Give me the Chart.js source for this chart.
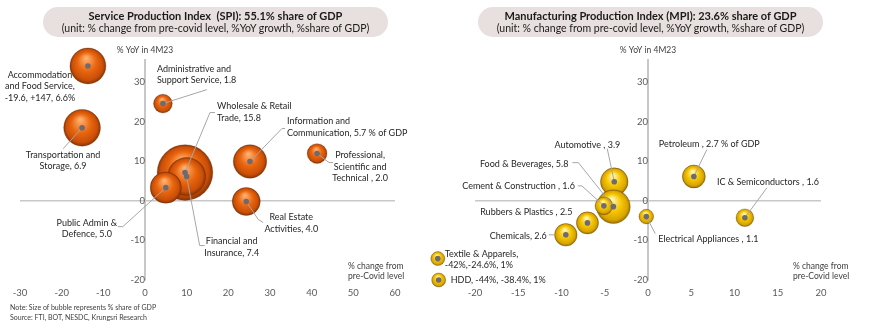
<!DOCTYPE html>
<html>
<head>
<meta charset="utf-8">
<script src="https://cdn.jsdelivr.net/npm/chart.js@4.4.0/dist/chart.umd.min.js"></script>
<style>
body { margin: 0; background: #fff; font-family: Lato, sans-serif; }
#wrap { position: relative; width: 870px; height: 333px; overflow: hidden; }
.box { position: absolute; top: 7px; height: 30px; width: 345px; border-radius: 15px; background: #e8e0df; text-align: center; color: #1a1a1a; z-index: 2; }
.box b { display: block; font-size: 11px; line-height: 12px; margin-top: 3px; }
.box span { display: block; font-size: 10.5px; line-height: 13px; }
#c1 { position: absolute; left: 0; top: 0; }
#c2 { position: absolute; left: 425px; top: 0; }
.note { position: absolute; left: 10px; top: 302px; font-size: 7px; line-height: 10px; color: #404040; }
</style>
</head>
<body>
<div id="wrap">
  <div class="box" style="left:43px"><b>Service Production Index&nbsp; (SPI): 55.1% share of GDP</b><span>(unit: % change from pre-covid level, %YoY growth, %share of GDP)</span></div>
  <div class="box" style="left:478px"><b>Manufacturing Production Index (MPI): 23.6% share of GDP</b><span>(unit: % change from pre-covid level, %YoY growth, %share of GDP)</span></div>
  <canvas id="c1" width="425" height="333"></canvas>
  <canvas id="c2" width="445" height="333"></canvas>
  <div class="note">Note: Size of bubble represents % share of GDP<br>Source: FTI, BOT, NESDC, Krungsri Research</div>
</div>
<script>
// SPI (services) - x: % change from pre-covid, y: %YoY 4M23, share of GDP
const spiLabels = [
  ['Accommodation', 'and Food Service,', '-19.6, +147, 6.6%'],
  ['Transportation and', 'Storage, 6.9'],
  ['Administrative and', 'Support Service, 1.8'],
  ['Wholesale & Retail', 'Trade, 15.8'],
  ['Financial and', 'Insurance, 7.4'],
  ['Public Admin &', 'Defence, 5.0'],
  ['Information and', 'Communication, 5.7 % of GDP'],
  ['Professional,', 'Scientific and', 'Technical , 2.0'],
  ['Real Estate', 'Activities, 4.0']
];
const spiChange = [-13.7, -15.1, 4.3, 9.6, 10.0, 5.0, 25.2, 41.3, 24.3];
const spiYoY = [34, 18.4, 24.5, 7.1, 6.1, 3.3, 9.9, 11.9, -0.2];
const spiShare = [6.6, 6.9, 1.8, 15.8, 7.4, 5.0, 5.7, 2.0, 4.0];
const spiXTicks = [-30, 60, 10];

// MPI (manufacturing)
const mpiLabels = [
  ['Automotive , 3.9'],
  ['Food & Beverages, 5.8'],
  ['Cement & Construction , 1.6'],
  ['Petroleum , 2.7 % of GDP'],
  ['IC & Semiconductors , 1.6'],
  ['Electrical Appliances , 1.1'],
  ['Rubbers & Plastics , 2.5'],
  ['Chemicals, 2.6'],
  ['Textile & Apparels,', '-42%,-24.6%, 1%'],
  ['HDD, -44%, -38.4%, 1%']
];
const mpiChange = [-3.9, -4.0, -5.1, 5.3, 11.2, -0.2, -7.0, -9.5, -24.3, -24.2];
const mpiYoY = [4.8, -1.5, -1.3, 6.1, -4.3, -4.0, -5.6, -8.6, -14.6, -20.0];
const mpiShare = [3.9, 5.8, 1.6, 2.7, 1.6, 1.1, 2.5, 2.6, 1.0, 1.0];
const mpiXTicks = [-20, 20, 5];

const yTicks = [-20, 35.5, 10];

// label placement (pixel offsets from bubble centre)
const spiPos = [
  {dx: -48, dy: 9, align: 'center'},
  {dx: -19, dy: 27, align: 'center', lead: [[0, 0], [-19, 21]]},
  {dx: -6, dy: -35, align: 'left', lead: [[0, 0], [44, -14]]},
  {dx: 32, dy: -66, align: 'left', lead: [[0, 0], [25, -60], [30, -60]]},
  {dx: 45, dy: 65, align: 'center', lead: [[0, 0], [13, 69], [18, 69]]},
  {dx: -79, dy: 35, align: 'center', lead: [[0, 0], [-43, 39], [-48, 39]]},
  {dx: 37, dy: -40, align: 'left', lead: [[0, 0], [32, -33], [35, -33]]},
  {dx: 43, dy: 2, align: 'center', lead: [[0, 0], [12, 9], [16, 9]]},
  {dx: 45, dy: 16, align: 'center', lead: [[0, 0], [12, 18], [17, 21]]}
];
const mpiPos = [
  {dx: 6, dy: -37, align: 'right', lead: [[0, 0], [-7, -33]]},
  {dx: -45, dy: -43, align: 'right', lead: [[0, 0], [-35, -44], [-41, -44]]},
  {dx: -29, dy: -20, align: 'right', lead: [[0, 0], [-22, -20], [-26, -20]]},
  {dx: -35, dy: -32, align: 'left', lead: [[0, 0], [13, -27]]},
  {dx: -28, dy: -36, align: 'left', lead: [[0, 0], [22, -30]]},
  {dx: 12, dy: 23, align: 'left', lead: [[0, 0], [9, 17]]},
  {dx: -15, dy: -11, align: 'right'},
  {dx: -19, dy: 1, align: 'right', lead: [[-11, 0], [-17, 0]]},
  {dx: 7, dy: -5, align: 'left'},
  {dx: 12, dy: 0, align: 'left'}
];

const orange = ['#fcb070', '#ea660e', '#c94e08', '#8a3404'];
const gold = ['#fff6b0', '#f5c600', '#d8a400', '#977100'];
const font = 'Lato, sans-serif';

function sphere(cols) {
  return function (c) {
    const ch = c.chart;
    if (!ch.chartArea || !c.raw) return cols[1];
    const px = ch.scales.x.getPixelForValue(c.raw.x);
    const py = ch.scales.y.getPixelForValue(c.raw.y);
    const r = c.raw.r;
    const g = ch.ctx.createRadialGradient(px - r * 0.1, py - r * 0.45, r * 0.05, px, py, r);
    g.addColorStop(0, cols[0]);
    g.addColorStop(0.5, cols[1]);
    g.addColorStop(0.85, cols[2]);
    g.addColorStop(1, cols[3]);
    return g;
  };
}

const labelPlugin = {
  id: 'bubbleLabels',
  beforeDatasetsDraw(chart) {
    // let bubbles placed beyond the axis range (Textile, HDD) still be drawn
    chart._area = chart.chartArea;
    chart.chartArea = {left: 0, top: 0, right: chart.width, bottom: chart.height, width: chart.width, height: chart.height};
  },
  beforeDatasetDraw(chart, args, opts) {
    if (args.index !== 0) return;
    const {ctx, scales: {x, y}} = chart;
    const pts = chart.data.datasets[1].data;
    ctx.save();
    ctx.strokeStyle = '#a6a6a6';
    ctx.lineWidth = 1;
    opts.pos.forEach((p, i) => {
      if (!p.lead) return;
      const px = x.getPixelForValue(pts[i].x), py = y.getPixelForValue(pts[i].y);
      ctx.beginPath();
      p.lead.forEach((q, k) => k ? ctx.lineTo(px + q[0], py + q[1]) : ctx.moveTo(px + q[0], py + q[1]));
      ctx.stroke();
    });
    ctx.restore();
  },
  afterDatasetsDraw(chart, args, opts) {
    chart.chartArea = chart._area;
    const {ctx, scales: {x, y}, chartArea} = chart;
    const pts = chart.data.datasets[1].data;
    ctx.save();
    ctx.fillStyle = '#262626';
    ctx.font = '9px ' + font;
    ctx.textBaseline = 'middle';
    opts.labels.forEach((lines, i) => {
      const p = opts.pos[i];
      const px = x.getPixelForValue(pts[i].x), py = y.getPixelForValue(pts[i].y);
      ctx.textAlign = p.align;
      lines.forEach((t, k) => ctx.fillText(t, px + p.dx, py + p.dy + k * 11.5));
    });
    // axis titles
    ctx.fillStyle = '#404040';
    ctx.font = '8.5px ' + font;
    ctx.textAlign = 'center';
    ctx.fillText('% YoY in 4M23', x.getPixelForValue(0), chartArea.top - 10);
    ctx.textAlign = 'left';
    ctx.fillText('% change from', chartArea.right + opts.xt, chartArea.bottom - 14);
    ctx.fillText('pre-Covid level', chartArea.right + opts.xt, chartArea.bottom - 4);
    ctx.restore();
  }
};

function makeChart(id, change, yoy, share, labels, pos, xt, cols, pad, xtOff) {
  const pts = change.map((v, i) => ({x: v, y: yoy[i], r: 7 * Math.sqrt(share[i])}));
  const dots = change.map((v, i) => ({x: v, y: yoy[i], r: 2.8}));
  return new Chart(document.getElementById(id), {
    type: 'bubble',
    data: {
      datasets: [
        {data: dots, backgroundColor: '#6e6a72', borderWidth: 0, clip: false},
        {data: pts, backgroundColor: sphere(cols), borderColor: 'rgba(90,40,0,0.35)', borderWidth: 0.8, clip: false}
      ]
    },
    options: {
      responsive: false,
      animation: false,
      events: [],
      layout: {padding: pad, autoPadding: false},
      plugins: {
        legend: {display: false},
        tooltip: {enabled: false},
        bubbleLabels: {labels: labels, pos: pos, xt: xtOff}
      },
      scales: {
        x: {
          type: 'linear', position: 'bottom', min: xt[0], max: xt[1],
          border: {display: false},
          grid: {display: false, drawTicks: false},
          ticks: {stepSize: xt[2], padding: 7, color: '#595959', font: {family: font, size: 9.5}},
          afterFit: s => { s.height = 20; s.paddingLeft = 0; s.paddingRight = 0; }
        },
        y: {
          type: 'linear', position: {x: 0}, min: yTicks[0], max: yTicks[1],
          border: {display: true, color: '#c8c8c8', width: 2},
          grid: {drawTicks: false, lineWidth: 1.5, color: c => c.tick && c.tick.value === 0 ? '#c8c8c8' : 'rgba(0,0,0,0)'},
          ticks: {stepSize: yTicks[2], padding: 8, color: '#595959', font: {family: font, size: 9.5},
            callback: v => v % 10 === 0 ? v : ''},
          afterFit: s => { s.width = 0; s.paddingTop = 0; s.paddingBottom = 0; }
        }
      }
    },
    plugins: [labelPlugin]
  });
}

makeChart('c1', spiChange, spiYoY, spiShare, spiLabels, spiPos, spiXTicks, orange,
  {left: 20, right: 30, top: 60, bottom: 33}, -47);
makeChart('c2', mpiChange, mpiYoY, mpiShare, mpiLabels, mpiPos, mpiXTicks, gold,
  {left: 50, right: 49, top: 60, bottom: 33}, -28);
</script>
</body>
</html>
